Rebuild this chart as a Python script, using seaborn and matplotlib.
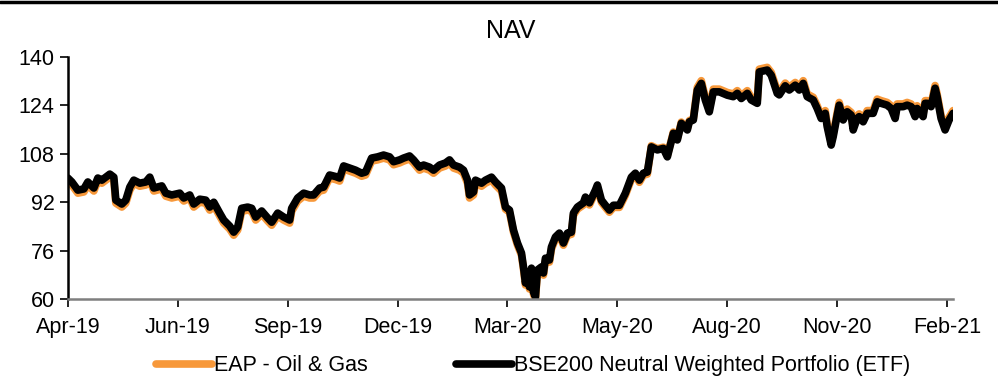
import numpy as np
import pandas as pd
import matplotlib
matplotlib.use("Agg")
import matplotlib.pyplot as plt
import seaborn as sns
from matplotlib.lines import Line2D

# trading-day index (Excel category axis) and NAV values
days = [0, 2, 5, 8, 10, 13, 15, 17, 21, 23,
        24, 27, 29, 31, 33, 36, 39, 41, 43, 47,
        49, 52, 56, 58, 61, 63, 66, 69, 71, 73,
        76, 78, 81, 83, 85, 87, 90, 92, 94, 97,
        100, 102, 105, 108, 111, 112, 115, 118, 121, 123,
        126, 128, 131, 134, 136, 138, 141, 144, 147, 149,
        152, 155, 158, 161, 163, 166, 168, 171, 173, 176,
        178, 181, 183, 186, 189, 191, 193, 196, 198, 200,
        201, 203, 204, 207, 209, 212, 214, 217, 219, 221,
        223, 225, 227, 228, 229, 230, 231, 232, 233, 234,
        235, 237, 238, 239, 241, 242, 244, 246, 248, 250,
        252, 253, 255, 258, 259, 261, 264, 265, 267, 269,
        271, 273, 276, 279, 282, 284, 286, 288, 290, 292,
        295, 298, 300, 303, 305, 307, 310, 311, 313, 315,
        317, 319, 321, 323, 326, 330, 333, 335, 337, 340,
        342, 345, 346, 350, 352, 355, 356, 359, 361, 364,
        366, 368, 370, 373, 375, 377, 379, 380, 382, 383,
        385, 386, 388, 390, 392, 393, 395, 396, 398, 400,
        403, 405, 407, 410, 412, 414, 415, 418, 420, 422,
        424, 425, 428, 429, 430, 432, 434, 435, 437, 439,
        441, 443]

bse200 = [100, 98.7, 96, 96.4, 98.7, 96.7, 100, 99.3, 101.3, 100.3,
          92.7, 91.4, 92.7, 97, 99.3, 98.3, 98.7, 100.3, 96.7, 97.4,
          95, 94.4, 95, 93.4, 94.4, 91.4, 93, 92.7, 90.4, 92,
          88.4, 86.1, 84.1, 82.1, 83.8, 90, 90.4, 90, 87.1, 89.1,
          86.8, 85.4, 88.4, 87.1, 86.1, 90, 93.4, 95, 94.4, 94.4,
          96.7, 97, 101, 100.5, 100, 104, 103.3, 102.6, 101.6, 102,
          106.6, 107, 107.6, 107, 105.4, 106, 106.6, 107.3, 106, 103.6,
          104.3, 103.6, 102.6, 104.3, 105, 106, 104.3, 103.6, 102.6, 99.3,
          94.4, 95.4, 99.3, 98.3, 99.3, 100.3, 98.7, 96.7, 90.4, 89.4,
          82.8, 78.5, 75.2, 70.6, 65.3, 68.6, 64, 70.2, 62.3, 60.7,
          69.6, 70.6, 68.6, 73.5, 72.9, 77.2, 80.5, 81.8, 78.5, 81.8,
          82.1, 88.4, 90.4, 91.8, 93.7, 91.8, 96, 97.7, 92.7, 91,
          89.4, 91, 91, 95, 100.3, 101.6, 99.3, 101.6, 102, 110.3,
          109.3, 109.8, 107, 114.8, 112.6, 118.1, 115.9, 118.6, 119.2, 129.1,
          131.3, 125.8, 121.9, 128.5, 128.5, 127.4, 126.9, 128, 126.3, 128,
          125.8, 124.7, 135.1, 135.7, 134, 128, 127.5, 130.5, 129.1, 130.7,
          129.1, 131.3, 126.9, 125.8, 123, 119.7, 121.4, 117, 110.9, 113.7,
          120.8, 124.1, 119.2, 121.9, 120.8, 115.9, 119.7, 120.3, 118.6, 121.4,
          121.4, 125.2, 124.7, 124.1, 123, 119.7, 123.6, 123.6, 124.1, 123.6,
          120.3, 123, 120.3, 124.7, 124.7, 123.6, 129.7, 126.9, 119.7, 115.9,
          119.2, 121.4]

oil_gas = [99.0, 97.7, 95.0, 95.4, 97.7, 95.7, 99.0, 98.3, 100.3, 99.3,
           91.7, 90.4, 91.7, 96.0, 98.3, 97.3, 97.7, 99.3, 95.7, 96.4,
           94.0, 93.4, 94.0, 92.4, 93.4, 90.4, 92.0, 91.7, 89.4, 91.0,
           87.4, 85.1, 83.1, 81.1, 82.8, 89.0, 89.4, 89.0, 86.1, 88.1,
           85.8, 84.4, 87.4, 86.1, 85.1, 89.0, 92.4, 94.0, 93.4, 93.4,
           95.7, 96.0, 100.0, 99.5, 99.0, 103.0, 102.3, 101.6, 100.6, 101.0,
           105.6, 106.0, 106.6, 106.0, 104.4, 105.0, 105.6, 106.3, 105.0, 102.6,
           103.3, 102.6, 101.6, 103.3, 104.0, 105.0, 103.3, 102.6, 101.6, 98.3,
           93.4, 94.4, 98.3, 97.3, 98.3, 99.3, 97.7, 95.7, 89.7, 88.7,
           82.1, 77.8, 74.5, 69.9, 64.6, 67.9, 63.3, 69.5, 61.6, 60.0,
           68.9, 69.9, 67.9, 72.8, 72.2, 76.5, 79.8, 81.1, 77.8, 81.1,
           81.4, 87.7, 89.7, 91.1, 93.0, 91.1, 95.3, 97.0, 92.0, 90.3,
           88.7, 90.3, 90.3, 94.3, 99.6, 100.9, 98.6, 100.9, 101.3, 110.7,
           109.7, 110.2, 107.4, 115.2, 113.0, 118.5, 116.3, 119.0, 119.6, 130.0,
           132.2, 126.7, 122.8, 129.4, 129.4, 128.3, 127.8, 128.9, 127.2, 128.9,
           126.7, 125.6, 136.0, 136.6, 134.9, 128.9, 128.4, 131.4, 130.0, 131.6,
           130.0, 132.2, 127.8, 126.7, 123.9, 120.6, 122.3, 117.9, 111.8, 114.6,
           121.7, 125.0, 120.1, 122.8, 121.7, 116.8, 120.6, 121.2, 119.5, 122.3,
           122.3, 126.1, 125.6, 125.0, 123.9, 120.6, 124.5, 124.5, 125.0, 124.5,
           121.2, 123.9, 121.2, 125.6, 125.6, 124.5, 130.6, 127.8, 120.6, 116.8,
           120.1, 122.3]

tick_pos = [0, 55, 110, 165, 220, 275, 330, 385, 440]
tick_labels = ["Apr-19", "Jun-19", "Sep-19", "Dec-19", "Mar-20",
               "May-20", "Aug-20", "Nov-20", "Feb-21"]
y_ticks = [60, 76, 92, 108, 124, 140]

df = pd.DataFrame({"day": days, "EAP - Oil & Gas": oil_gas,
                   "BSE200 Neutral Weighted Portfolio (ETF)": bse200})

sns.set_style("ticks")
plt.rcParams["font.family"] = ["Liberation Sans", "DejaVu Sans"]
plt.rcParams["text.color"] = "black"
plt.rcParams["xtick.color"] = "black"
plt.rcParams["ytick.color"] = "black"

fig = plt.figure(figsize=(9.98, 3.78), dpi=100)
ax = fig.add_axes([0.068, 0.209, 0.887, 0.640])

sns.lineplot(data=df, x="day", y="EAP - Oil & Gas", color="#F7983A",
             linewidth=5.5, ax=ax, label="EAP - Oil & Gas",
             solid_joinstyle="round", solid_capstyle="round")
sns.lineplot(data=df, x="day", y="BSE200 Neutral Weighted Portfolio (ETF)",
             color="black", linewidth=5.5, ax=ax,
             label="BSE200 Neutral Weighted Portfolio (ETF)",
             solid_joinstyle="round", solid_capstyle="round")

ax.set_xlim(0, 443)
ax.set_ylim(60, 140)
ax.set_xticks(tick_pos)
ax.set_xticklabels(tick_labels)
ax.set_yticks(y_ticks)
ax.set_xlabel("")
ax.set_ylabel("")
ax.tick_params(axis="both", labelsize=15.5, length=6, width=1.2,
               color="black", labelcolor="black")
ax.tick_params(axis="x", pad=7)
sns.despine(ax=ax)
ax.spines["left"].set_linewidth(1.8)
ax.spines["left"].set_color("black")
ax.spines["bottom"].set_linewidth(1.8)
ax.spines["bottom"].set_color("#7f7f7f")

ax.set_title("NAV", fontsize=18, pad=14, color="black")

leg = ax.legend(loc="upper center", bbox_to_anchor=(0.534, 0.112),
                bbox_transform=fig.transFigure, ncol=2, frameon=False,
                fontsize=15.5, handlelength=2.6, handletextpad=0.1,
                columnspacing=4.1)
for t in leg.get_texts():
    t.set_color("black")

# rule across the top of the figure
fig.add_artist(Line2D([0, 1], [0.994, 0.994], color="black", linewidth=2.5,
                      transform=fig.transFigure))

fig.savefig("out.png", dpi=100)
